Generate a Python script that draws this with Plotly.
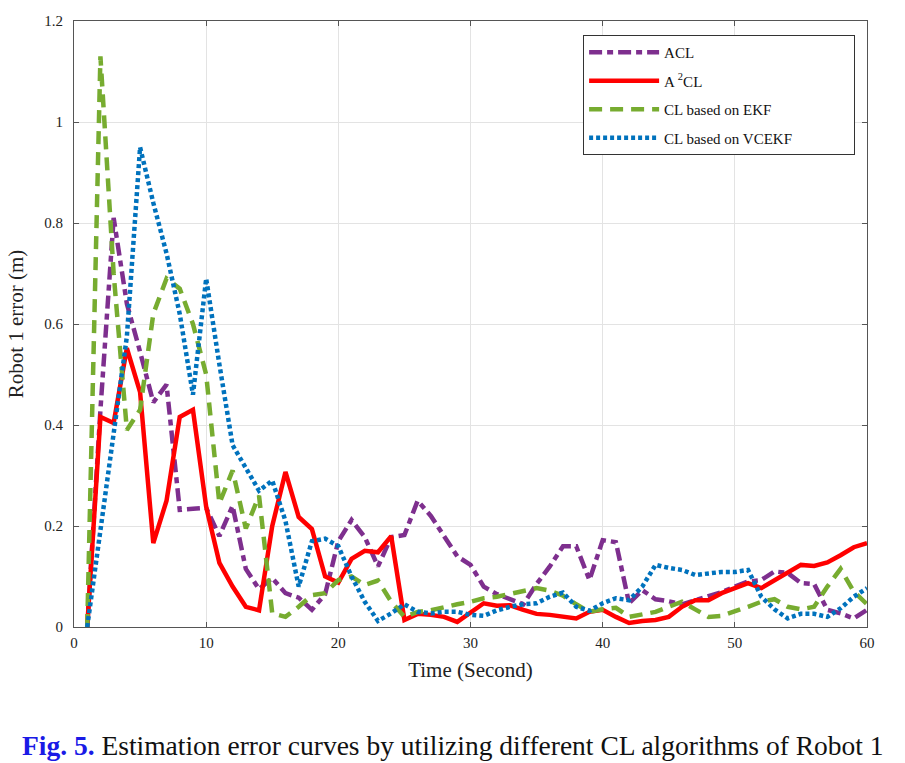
import plotly.graph_objects as go

time_s = list(range(1, 61))

acl = [0.0, 0.43, 0.81, 0.64, 0.545, 0.445, 0.48, 0.232, 0.234, 0.236,
       0.18, 0.24, 0.115, 0.075, 0.097, 0.067, 0.058, 0.034, 0.065, 0.17,
       0.212, 0.178, 0.12, 0.178, 0.182, 0.25, 0.22, 0.18, 0.14, 0.123,
       0.08, 0.065, 0.055, 0.045, 0.085, 0.12, 0.16, 0.16, 0.093, 0.172,
       0.168, 0.047, 0.073, 0.055, 0.051, 0.045, 0.053, 0.061, 0.069, 0.08,
       0.09, 0.093, 0.11, 0.107, 0.087, 0.085, 0.034, 0.027, 0.017, 0.034]

a2cl = [0.0, 0.416, 0.404, 0.552, 0.465, 0.166, 0.25, 0.416, 0.43, 0.238,
        0.127, 0.08, 0.04, 0.033, 0.2, 0.307, 0.218, 0.194, 0.1, 0.088,
        0.135, 0.151, 0.148, 0.18, 0.014, 0.026, 0.024, 0.02, 0.01, 0.028,
        0.047, 0.042, 0.043, 0.034, 0.026, 0.024, 0.02, 0.017, 0.03, 0.034,
        0.02, 0.008, 0.012, 0.014, 0.02, 0.04, 0.053, 0.053, 0.067, 0.077,
        0.087, 0.077, 0.093, 0.109, 0.123, 0.121, 0.128, 0.142, 0.158, 0.166]

ekf = [0.0, 1.13, 0.7, 0.39, 0.43, 0.62, 0.69, 0.67, 0.6, 0.5,
       0.245, 0.31, 0.195, 0.26, 0.027, 0.02, 0.04, 0.063, 0.067, 0.093,
       0.1, 0.083, 0.092, 0.05, 0.02, 0.03, 0.033, 0.04, 0.045, 0.05,
       0.057, 0.06, 0.065, 0.07, 0.077, 0.072, 0.062, 0.045, 0.03, 0.035,
       0.038, 0.02, 0.025, 0.03, 0.04, 0.05, 0.035, 0.02, 0.022, 0.03,
       0.04, 0.05, 0.055, 0.04, 0.035, 0.04, 0.08, 0.115, 0.07, 0.045]

vcekf = [0.0, 0.19, 0.37, 0.575, 0.95, 0.84, 0.74, 0.62, 0.46, 0.69,
         0.52, 0.36, 0.315, 0.27, 0.29, 0.21, 0.08, 0.17, 0.175, 0.16,
         0.1, 0.05, 0.012, 0.027, 0.045, 0.03, 0.027, 0.03, 0.03, 0.024,
         0.022, 0.033, 0.04, 0.045, 0.047, 0.06, 0.068, 0.04, 0.032, 0.047,
         0.057, 0.053, 0.08, 0.123, 0.117, 0.113, 0.103, 0.107, 0.109, 0.109,
         0.113, 0.06, 0.035, 0.017, 0.026, 0.026, 0.02, 0.037, 0.06, 0.077]

series_names = ["ACL", "A <sup>2</sup>CL", "CL based on EKF", "CL based on VCEKF"]
series_values = [acl, a2cl, ekf, vcekf]
series_colors = ["#7E2F8E", "#FF0000", "#77AC30", "#0072BD"]
series_dash = ["13px,5px,6px,5px", "solid", "13px,8px", "4px,3px"]

x_ticks = [0, 10, 20, 30, 40, 50, 60]
y_ticks = [0, 0.2, 0.4, 0.6, 0.8, 1.0, 1.2]
y_tick_text = ["0", "0.2", "0.4", "0.6", "0.8", "1", "1.2"]

SERIF = "Liberation Serif, Times New Roman, serif"
NBSP = "\u00a0"

fig = go.Figure()
for i, (name, vals, col, dash) in enumerate(zip(series_names, series_values, series_colors, series_dash)):
    # the reference legend box leaves blank room right of the longest label
    label = name + NBSP * 15 if i == 3 else name
    fig.add_trace(go.Scatter(
        x=time_s, y=vals, mode="lines", name=label,
        legendgroup=f"g{i}",
        line=dict(color=col, width=4.5, dash=dash),
    ))

axis_common = dict(
    showgrid=True, gridcolor="#E3E3E3", gridwidth=1,
    showline=True, linecolor="#555555", linewidth=1, mirror="ticks",
    ticks="inside", ticklen=5, tickcolor="#555555",
    zeroline=False,
    tickfont=dict(family=SERIF, size=15, color="#222222"),
)

fig.update_xaxes(range=[0, 60], tickvals=x_ticks, ticklabelstandoff=2,
                 title=dict(text="Time (Second)", font=dict(family=SERIF, size=21, color="#222222"), standoff=12),
                 **axis_common)
fig.update_yaxes(range=[0, 1.2], tickvals=y_ticks, ticktext=y_tick_text, ticklabelstandoff=7,
                 title=dict(text="Robot 1 error (m)", font=dict(family=SERIF, size=21, color="#222222"), standoff=14),
                 **axis_common)

fig.update_layout(
    width=905, height=763,
    margin=dict(l=74, r=38, t=21, b=136),
    paper_bgcolor="white", plot_bgcolor="white",
    legend=dict(
        x=0.642, y=0.977, xanchor="left", yanchor="top",
        bgcolor="white", bordercolor="#333333", borderwidth=1,
        font=dict(family=SERIF, size=15, color="#111111"),
        traceorder="grouped", tracegroupgap=6,
        itemwidth=70,
    ),
    annotations=[dict(
        xref="paper", yref="paper", x=0.478, y=-0.195,
        xanchor="center", yanchor="middle", showarrow=False,
        text="<span style='color:#1A1AE6'><b>Fig. 5.</b></span> Estimation error curves by utilizing different CL algorithms of Robot 1",
        font=dict(family=SERIF, size=27.5, color="#111111"),
    )],
)

fig.write_html("out.html", config={"displayModeBar": False},
               post_script="document.body.style.margin='0';")
